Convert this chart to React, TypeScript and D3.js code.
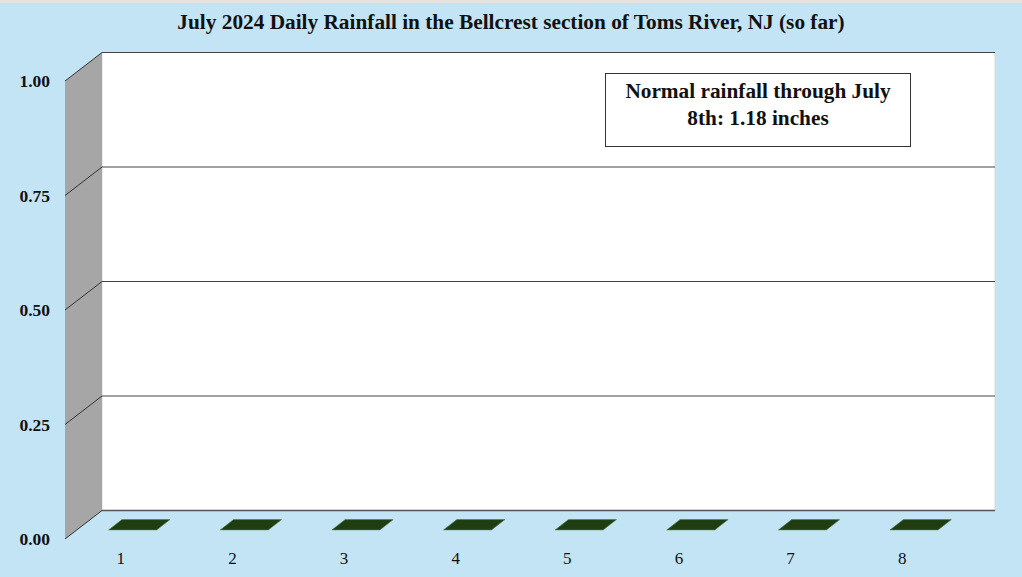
import React from 'react';
import * as d3 from 'd3';

const days = ['1', '2', '3', '4', '5', '6', '7', '8'];
const rainfall = [0, 0, 0, 0, 0, 0, 0, 0];
const yTicks = [0, 0.25, 0.5, 0.75, 1.0];
const title = 'July 2024 Daily Rainfall in the Bellcrest section of Toms River, NJ (so far)';
const noteLines = ['Normal rainfall through July', '8th: 1.18 inches'];

const W = 1022, H = 577;
const front = { left: 65, right: 958, top: 81, bottom: 539 };
const depth = { dx: 37, dy: -28.5 };
const barZ = [0.32, 0.68]; // bar front / back as fraction of depth

export default function App() {
  const x = d3.scaleBand<string>()
    .domain(days)
    .range([front.left, front.right])
    .paddingInner(0.57)
    .paddingOuter(0.285);

  const y = d3.scaleLinear().domain([0, 1]).range([front.bottom, front.top]);

  const back = (px: number, py: number): [number, number] => [px + depth.dx, py + depth.dy];
  const at = (px: number, py: number, z: number): [number, number] => [px + depth.dx * z, py + depth.dy * z];
  const poly = (pts: [number, number][]) => pts.map(p => p.join(',')).join(' ');

  const wallLeft = back(front.left, y(1))[0];
  const wallRight = back(front.right, y(1))[0];

  return (
    <svg width={W} height={H} style={{ position: 'absolute', left: 0, top: 0 }}
      fontFamily="'Liberation Serif', 'Times New Roman', serif">
      <rect x={0} y={0} width={W} height={H} fill="#c3e4f4" />
      <rect x={0} y={0} width={W} height={3} fill="#e2e2e2" />

      <text x={511} y={29} textAnchor="middle" fontSize={21.3} fontWeight="bold" fill="#111">{title}</text>

      {/* back wall */}
      <rect x={wallLeft} y={back(0, y(1))[1]} width={wallRight - wallLeft}
        height={y(0) - y(1)} fill="#ffffff" stroke="#d8d8d8" strokeWidth={1} />

      {/* left side wall */}
      <polygon fill="#a6a6a6"
        points={poly([[front.left, y(1)], back(front.left, y(1)), back(front.left, y(0)), [front.left, y(0)]])} />

      {/* gridlines */}
      {yTicks.map(t => {
        const [bx, by] = back(front.left, y(t));
        return (
          <g key={t}>
            <line x1={front.left} y1={y(t)} x2={bx} y2={by} stroke="#333" strokeWidth={1} />
            <line x1={bx} y1={by} x2={wallRight} y2={by} stroke={t === 0 ? '#555' : '#444'} strokeWidth={t === 0 ? 1.5 : 1} />
            <text x={50} y={y(t)} dy="0.35em" textAnchor="end" fontSize={17.5} fontWeight="bold" fill="#111">
              {t.toFixed(2)}
            </text>
          </g>
        );
      })}

      {/* bars */}
      {days.map((d, i) => {
        const x0 = x(d)!;
        const x1 = x0 + x.bandwidth();
        const v = rainfall[i];
        const yv = y(v);
        const yb = y(0);
        const [z0, z1] = barZ;
        const topFace = poly([at(x0, yv, z0), at(x1, yv, z0), at(x1, yv, z1), at(x0, yv, z1)]);
        const frontFace = poly([at(x0, yv, z0), at(x1, yv, z0), at(x1, yb, z0), at(x0, yb, z0)]);
        const sideFace = poly([at(x1, yv, z0), at(x1, yv, z1), at(x1, yb, z1), at(x1, yb, z0)]);
        return (
          <g key={d}>
            {v > 0 && <polygon points={frontFace} fill="#2a5416" />}
            {v > 0 && <polygon points={sideFace} fill="#173209" />}
            <polygon points={topFace} fill="#1f3d10" stroke="#4f7a43" strokeWidth={0.6} />
            <text x={x0 + x.bandwidth() / 2} y={558} dy="0.35em" textAnchor="middle" fontSize={17} fill="#111">{d}</text>
          </g>
        );
      })}

      {/* note box */}
      <rect x={605.5} y={73.5} width={305} height={73} fill="#fff" stroke="#333" strokeWidth={1} />
      {noteLines.map((l, i) => (
        <text key={i} x={758} y={98 + i * 26.5} textAnchor="middle" fontSize={21.3} fontWeight="bold" fill="#111">{l}</text>
      ))}
    </svg>
  );
}
